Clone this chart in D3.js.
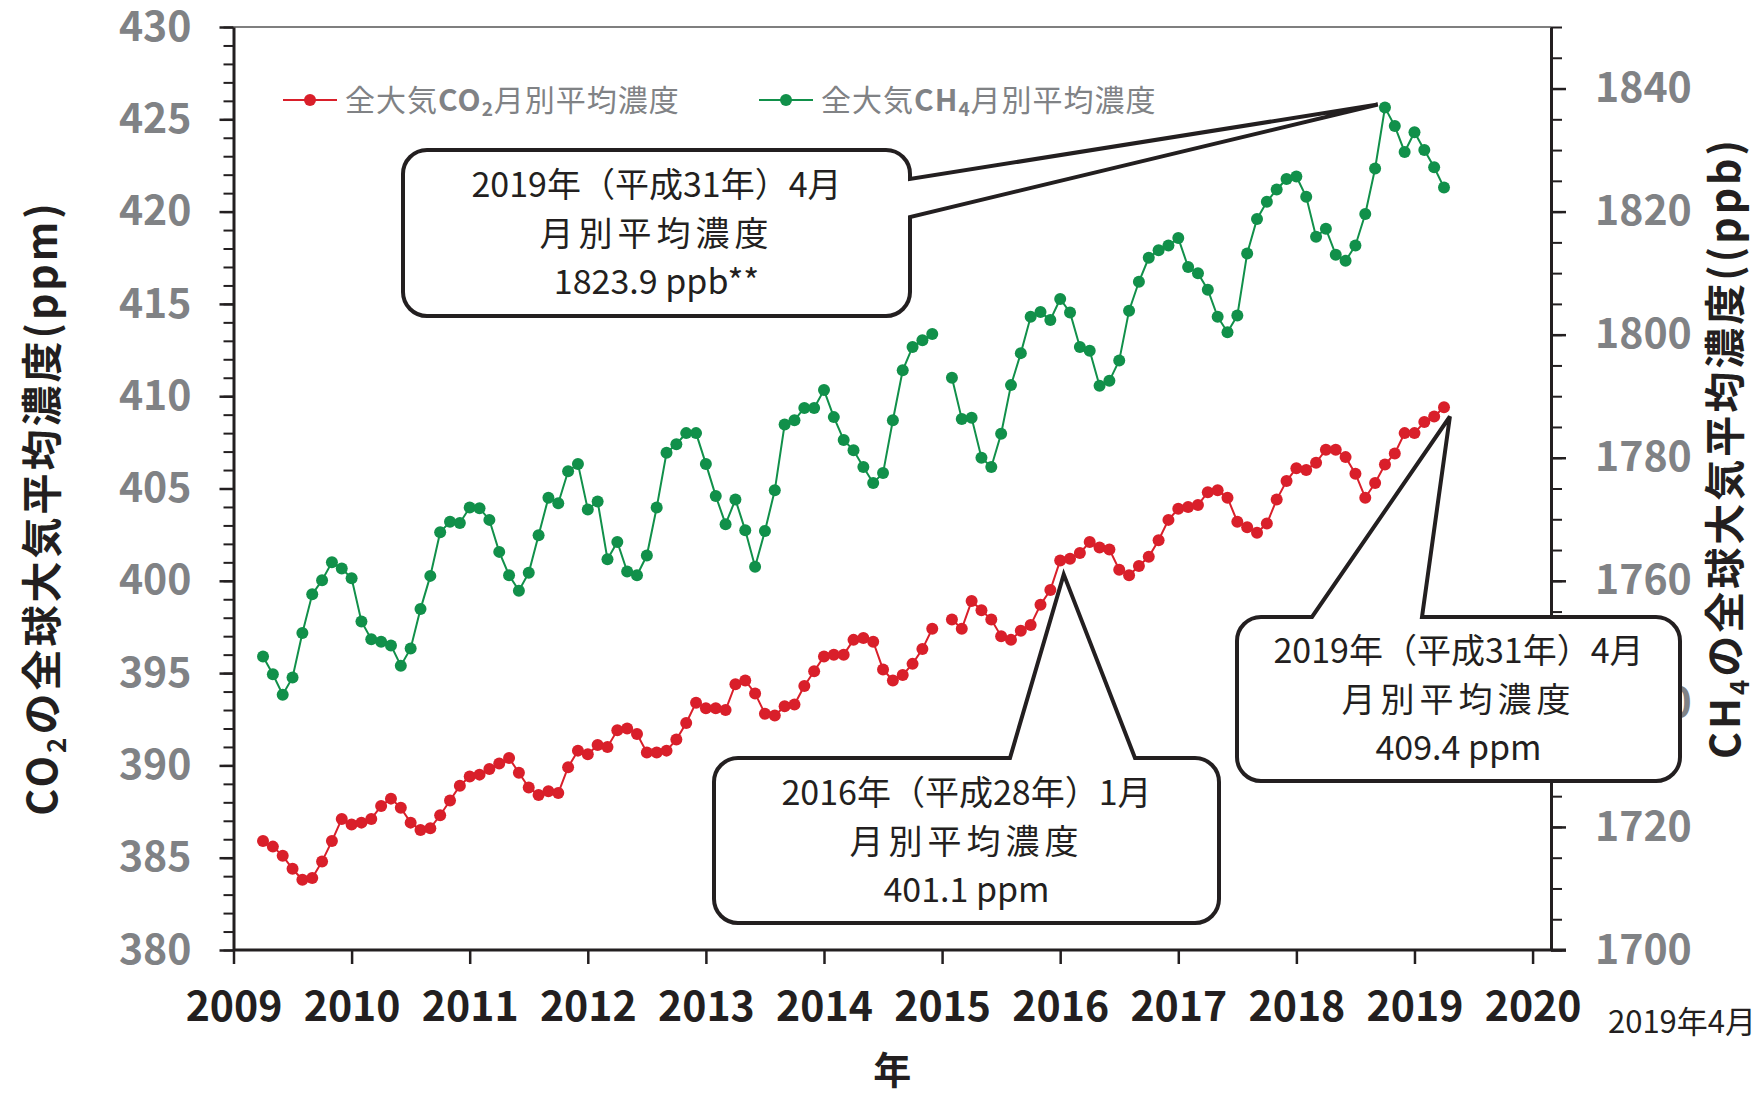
<!DOCTYPE html>
<html>
<head>
<meta charset="utf-8">
<script src="https://cdn.jsdelivr.net/npm/d3@7"></script>
<style>
body { margin: 0; background: #fff; }
svg text { font-family: "Noto Sans CJK JP", "Noto Sans", sans-serif; }
</style>
</head>
<body>
<svg id="chart" width="1760" height="1093"></svg>
<script>
// monthly values, Apr 2009 .. Apr 2019 (Jan 2015 missing)
const start_month = new Date(2009, 3, 1);
const end_month = new Date(2019, 4, 1);

const co2 = [385.9, 385.6, 385.1, 384.4, 383.8, 383.9, 384.8, 385.9, 387.1, 386.8,
    386.9, 387.1, 387.8, 388.2, 387.7, 386.9, 386.5, 386.6, 387.3, 388.1,
    388.9, 389.4, 389.5, 389.8, 390.1, 390.4, 389.6, 388.8, 388.4, 388.6,
    388.5, 389.9, 390.8, 390.6, 391.1, 391.0, 391.9, 392.0, 391.7, 390.7,
    390.7, 390.8, 391.4, 392.3, 393.4, 393.1, 393.1, 393.0, 394.4, 394.6,
    393.9, 392.8, 392.7, 393.2, 393.3, 394.3, 395.1, 395.9, 396.0, 396.0,
    396.8, 396.9, 396.7, 395.2, 394.6, 394.9, 395.5, 396.3, 397.4, null,
    397.9, 397.4, 398.9, 398.4, 397.9, 397.0, 396.8, 397.3, 397.6, 398.7,
    399.5, 401.1, 401.2, 401.5, 402.1, 401.8, 401.7, 400.6, 400.3, 400.8,
    401.3, 402.2, 403.3, 403.9, 404.0, 404.1, 404.8, 404.9, 404.5, 403.2,
    402.9, 402.6, 403.1, 404.4, 405.4, 406.1, 406.0, 406.4, 407.1, 407.1,
    406.7, 405.8, 404.5, 405.3, 406.3, 406.9, 408.0, 408.0, 408.6, 408.9,
    409.4];

const ch4 = [1747.7, 1744.8, 1741.5, 1744.3, 1751.5, 1757.8, 1760.1, 1763.0, 1762.0, 1760.4,
    1753.4, 1750.5, 1750.1, 1749.5, 1746.2, 1749.0, 1755.4, 1760.8, 1767.9, 1769.6,
    1769.4, 1771.9, 1771.8, 1769.9, 1764.7, 1760.9, 1758.4, 1761.3, 1767.4, 1773.5,
    1772.6, 1777.8, 1779.0, 1771.6, 1772.9, 1763.5, 1766.3, 1761.5, 1760.9, 1764.1,
    1771.9, 1780.8, 1782.2, 1784.0, 1784.0, 1779.0, 1773.8, 1769.2, 1773.2, 1768.2,
    1762.3, 1768.1, 1774.7, 1785.4, 1786.1, 1788.1, 1788.1, 1791.0, 1786.6, 1782.9,
    1781.2, 1778.5, 1775.9, 1777.5, 1786.1, 1794.2, 1798.0, 1799.1, 1800.1, null,
    1793.0, 1786.3, 1786.5, 1780.0, 1778.5, 1783.9, 1791.8, 1797.0, 1802.9, 1803.7,
    1802.4, 1805.8, 1803.6, 1798.0, 1797.4, 1791.7, 1792.5, 1795.8, 1803.9, 1808.6,
    1812.5, 1813.7, 1814.5, 1815.7, 1811.0, 1810.0, 1807.3, 1802.9, 1800.4, 1803.1,
    1813.2, 1818.8, 1821.6, 1823.6, 1825.3, 1825.7, 1822.4, 1815.9, 1817.2, 1813.0,
    1812.0, 1814.5, 1819.6, 1827.0, 1836.9, 1833.9, 1829.7, 1832.9, 1830.0, 1827.2,
    1823.9];

const year_ticks = [2009, 2010, 2011, 2012, 2013, 2014, 2015, 2016, 2017, 2018, 2019, 2020];
const co2_ticks = [380, 385, 390, 395, 400, 405, 410, 415, 420, 425, 430];
const ch4_ticks = [1700, 1720, 1740, 1760, 1780, 1800, 1820, 1840];

const legend_names = ["全大気", "月別平均濃度"];

// callouts: tip is [year, value] on the axis named
const callouts = [
    {lines: ["2019年（平成31年）4月", "月別平均濃度", "1823.9 ppb**"], tip: [2018.69, 1837.4], axis: "right",
        x: 403, y: 150, w: 507, h: 166, side: "right", b0: 179, b1: 217},
    {lines: ["2016年（平成28年）1月", "月別平均濃度", "401.1 ppm"], tip: [2016.03, 400.35], axis: "left",
        x: 714, y: 758, w: 505, h: 165, side: "top", b0: 1010, b1: 1135},
    {lines: ["2019年（平成31年）4月", "月別平均濃度", "409.4 ppm"], tip: [2019.3, 408.9], axis: "left",
        x: 1237, y: 617, w: 443, h: 164, side: "top", b0: 1312, b1: 1422}
];

const red = "#d91f2a";
const green = "#11904a";
const ink = "#231f20";
const grey = "#808285";

const svg = d3.select("#chart");

const x = d3.scaleLinear().domain([2009, 2020.156]).range([233.5, 1551]);
const y_left = d3.scaleLinear().domain([380, 430]).range([950, 27]);
const y_right = d3.scaleLinear().domain([1700, 1850]).range([950, 27]);

let months = d3.timeMonth.range(start_month, end_month).map(function (d) {
    return d.getFullYear() + d.getMonth() / 12;
});
let co2_data = months.map(function (m, i) { return {t: m, v: co2[i]}; });
let ch4_data = months.map(function (m, i) { return {t: m, v: ch4[i]}; });

// top frame line
svg.append("line")
    .attr("x1", x(2009)).attr("x2", x.range()[1])
    .attr("y1", 27).attr("y2", 27)
    .style("stroke", "#555").style("stroke-width", 1.6);

// left axis: minor then major
svg.append("g")
    .attr("transform", "translate(" + x(2009) + ",0)")
    .call(d3.axisLeft(y_left).tickValues(d3.range(380, 431, 1)).tickSize(10).tickSizeOuter(0).tickFormat(""))
    .call(g => g.select(".domain").remove())
    .selectAll("line").style("stroke", ink).style("stroke-width", 2);

let left_axis = svg.append("g")
    .attr("transform", "translate(" + x(2009) + ",0)")
    .call(d3.axisLeft(y_left).tickValues(co2_ticks).tickSize(14).tickSizeOuter(0).tickPadding(28));
left_axis.select(".domain").style("stroke", ink).style("stroke-width", 3);
left_axis.selectAll("line").style("stroke", ink).style("stroke-width", 2.5);
left_axis.selectAll("text")
    .style("font-size", "41px").style("font-weight", "bold").style("fill", grey)
    .style("font-family", "'Noto Sans CJK JP', sans-serif");

// right axis
svg.append("g")
    .attr("transform", "translate(" + x.range()[1] + ",0)")
    .call(d3.axisRight(y_right).tickValues(d3.range(1700, 1851, 5)).tickSize(11).tickSizeOuter(0).tickFormat(""))
    .call(g => g.select(".domain").remove())
    .selectAll("line").style("stroke", ink).style("stroke-width", 2);

let right_axis = svg.append("g")
    .attr("transform", "translate(" + x.range()[1] + ",0)")
    .call(d3.axisRight(y_right).tickValues(ch4_ticks).tickSize(15).tickSizeOuter(0).tickPadding(29)
        .tickFormat(d3.format("d")));
right_axis.select(".domain").style("stroke", ink).style("stroke-width", 3);
right_axis.selectAll("line").style("stroke", ink).style("stroke-width", 2.5);
right_axis.selectAll("text")
    .style("font-size", "41px").style("font-weight", "bold").style("fill", grey)
    .style("font-family", "'Noto Sans CJK JP', sans-serif");

// bottom axis
let bottom_axis = svg.append("g")
    .attr("transform", "translate(0,950)")
    .call(d3.axisBottom(x).tickValues(year_ticks).tickSize(14).tickSizeOuter(0).tickPadding(28).tickFormat(d3.format("d")));
bottom_axis.select(".domain").attr("d", "M" + x(2009) + ",0H" + (x.range()[1] + 15))
    .style("stroke", ink).style("stroke-width", 3);
bottom_axis.selectAll("line").style("stroke", ink).style("stroke-width", 2.5);
bottom_axis.selectAll("text")
    .style("font-size", "41px").style("font-weight", "bold").style("fill", ink)
    .style("font-family", "'Noto Sans CJK JP', sans-serif");

// axis titles
let left_title = svg.append("text")
    .attr("transform", "translate(43,508) rotate(-90)")
    .attr("text-anchor", "middle")
    .attr("dy", "0.35em")
    .style("font-size", "41px").style("font-weight", "bold").style("fill", ink)
    .style("letter-spacing", "3px");
left_title.append("tspan").text("CO");
left_title.append("tspan").text("2").attr("dy", 9).style("font-size", "26px");
left_title.append("tspan").text("の全球大気平均濃度(ppm)").attr("dy", -9);

let right_title = svg.append("text")
    .attr("transform", "translate(1726,448) rotate(-90)")
    .attr("text-anchor", "middle")
    .attr("dy", "0.35em")
    .style("font-size", "41px").style("font-weight", "bold").style("fill", ink)
    .style("letter-spacing", "3px");
right_title.append("tspan").text("CH");
right_title.append("tspan").text("4").attr("dy", 9).style("font-size", "26px");
right_title.append("tspan").text("の全球大気平均濃度((ppb)").attr("dy", -9);

svg.append("text")
    .attr("x", (x(2009) + x.range()[1]) / 2).attr("y", 1084)
    .attr("text-anchor", "middle")
    .style("font-size", "38px").style("font-weight", "bold").style("fill", ink)
    .text("年");

svg.append("text")
    .attr("x", 1608).attr("y", 1033)
    .style("font-size", "31px").style("fill", ink)
    .text("2019年4月");

// series
function draw_series(data, scale, color) {
    let line = d3.line()
        .defined(function (d) { return d.v != null; })
        .x(function (d) { return x(d.t); })
        .y(function (d) { return scale(d.v); });

    svg.append("path")
        .datum(data)
        .attr("d", line)
        .attr("fill", "none")
        .style("stroke", color)
        .style("stroke-width", 2);

    svg.append("g")
        .selectAll("circle")
        .data(data.filter(function (d) { return d.v != null; }))
        .enter()
        .append("circle")
        .attr("cx", function (d) { return x(d.t); })
        .attr("cy", function (d) { return scale(d.v); })
        .attr("r", 6)
        .attr("fill", color);
}

draw_series(ch4_data, y_right, green);
draw_series(co2_data, y_left, red);

// legend
const legend_items = [
    {color: red, gas: "CO", sub: "2", x: 283},
    {color: green, gas: "CH", sub: "4", x: 759}
];
legend_items.forEach(function (d) {
    svg.append("line")
        .attr("x1", d.x).attr("x2", d.x + 54)
        .attr("y1", 100).attr("y2", 100)
        .style("stroke", d.color).style("stroke-width", 2);
    svg.append("circle")
        .attr("cx", d.x + 27).attr("cy", 100).attr("r", 6)
        .attr("fill", d.color);
    let t = svg.append("text")
        .attr("x", d.x + 62).attr("y", 100).attr("dy", "0.36em")
        .style("font-size", "30px").style("fill", grey)
        .style("letter-spacing", "1px");
    t.append("tspan").text(legend_names[0]);
    t.append("tspan").text(d.gas).style("font-weight", "bold");
    t.append("tspan").text(d.sub).style("font-weight", "bold").style("font-size", "19px").attr("dy", 5);
    t.append("tspan").text(legend_names[1]).attr("dy", -5);
});

// callout boxes
function callout_path(c, tx, ty) {
    let r = 24;
    let x0 = c.x, y0 = c.y, x1 = c.x + c.w, y1 = c.y + c.h;
    let p = d3.path();
    p.moveTo(x0 + r, y0);
    if (c.side === "top") {
        p.lineTo(c.b0, y0);
        p.lineTo(tx, ty);
        p.lineTo(c.b1, y0);
    }
    p.lineTo(x1 - r, y0);
    p.arcTo(x1, y0, x1, y0 + r, r);
    if (c.side === "right") {
        p.lineTo(x1, c.b0);
        p.lineTo(tx, ty);
        p.lineTo(x1, c.b1);
    }
    p.lineTo(x1, y1 - r);
    p.arcTo(x1, y1, x1 - r, y1, r);
    p.lineTo(x0 + r, y1);
    p.arcTo(x0, y1, x0, y1 - r, r);
    p.lineTo(x0, y0 + r);
    p.arcTo(x0, y0, x0 + r, y0, r);
    p.closePath();
    return p.toString();
}

callouts.forEach(function (c) {
    let scale = c.axis === "left" ? y_left : y_right;
    svg.append("path")
        .attr("d", callout_path(c, x(c.tip[0]), scale(c.tip[1])))
        .attr("fill", "#fff")
        .style("stroke", ink)
        .style("stroke-width", 4)
        .style("stroke-linejoin", "miter");

    let cx = c.x + c.w / 2, cy = c.y + c.h / 2;
    svg.append("text")
        .attr("x", cx).attr("y", cy - 48).attr("dy", "0.36em")
        .attr("text-anchor", "middle")
        .style("font-size", "34px").style("fill", ink)
        .text(c.lines[0]);
    svg.append("text")
        .attr("x", cx).attr("y", cy + 1).attr("dy", "0.36em")
        .attr("text-anchor", "middle")
        .style("font-size", "34px").style("fill", ink)
        .style("letter-spacing", "5px")
        .text(c.lines[1]);
    svg.append("text")
        .attr("x", cx).attr("y", cy + 49).attr("dy", "0.36em")
        .attr("text-anchor", "middle")
        .style("font-size", "34px").style("fill", ink)
        .text(c.lines[2]);
});
</script>
</body>
</html>
